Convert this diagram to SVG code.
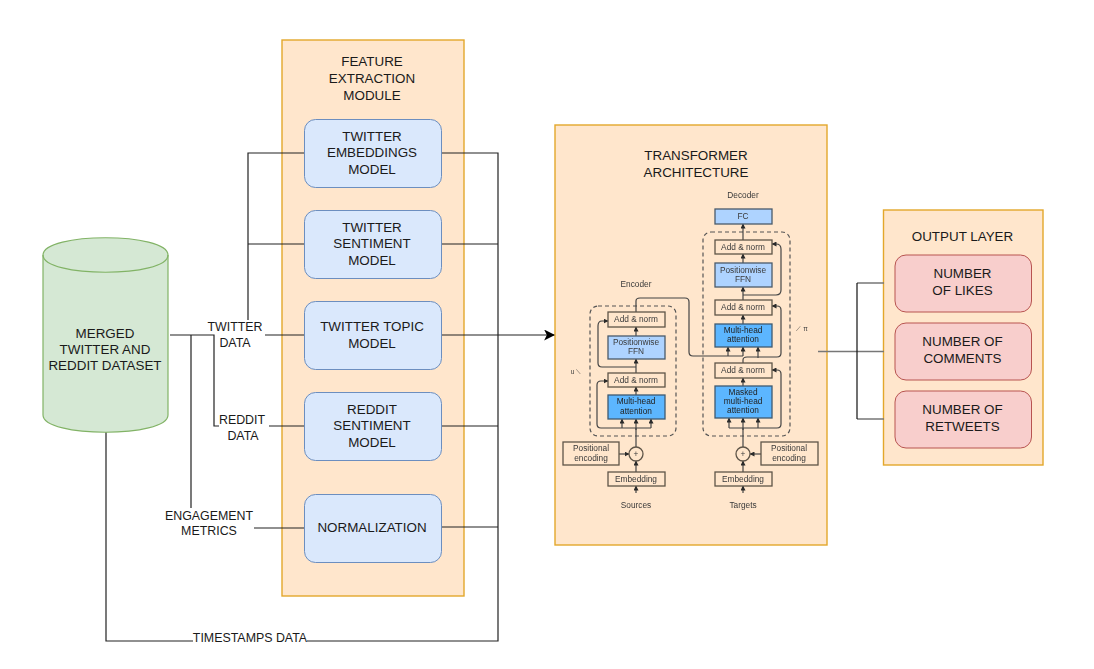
<svg xmlns="http://www.w3.org/2000/svg" width="1094" height="669" viewBox="0 0 1094 669">
<defs>
<marker id="big" viewBox="0 0 10 10" refX="9" refY="5" markerWidth="11" markerHeight="11" markerUnits="userSpaceOnUse" orient="auto"><path d="M0 0L10 5L0 10L2.500 5Z" fill="#000"/></marker>
<marker id="a" viewBox="0 0 10 10" refX="9" refY="5" markerWidth="5" markerHeight="5" markerUnits="userSpaceOnUse" orient="auto"><path d="M0 0L10 5L0 10Z" fill="#2a2a2a"/></marker>
<filter id="soft" x="-5%" y="-5%" width="110%" height="110%"><feGaussianBlur stdDeviation="0.4"/></filter>
</defs>
<style>
text{font-family:"Liberation Sans",Arial,sans-serif;fill:#1a1a1a;text-anchor:middle}
.t{font-size:13.4px}
.e{font-size:12.4px}
.s{font-size:8.300px;fill:#3a3a3a}
.panel{fill:#ffe6cc;stroke:#e3a72b;stroke-width:1.4}
.blue{fill:#dae8fc;stroke:#6c8ebf;stroke-width:1}
.red{fill:#f8cecc;stroke:#b85450;stroke-width:1}
.c{fill:none;stroke:#222;stroke-width:1.200}
.g{fill:none;stroke:#777;stroke-width:1.500}
.tf{fill:none;stroke:#444;stroke-width:1.200}
.d{fill:none;stroke:#555;stroke-width:1.200;stroke-dasharray:4 3}
.box{fill:#ffe6cc;stroke:#5f5548;stroke-width:1.300}
.lb{fill:#aed3ff;stroke:#4a5a6a;stroke-width:1.300}
.db{fill:#5cb6ff;stroke:#3f5a70;stroke-width:1.300}
</style>
<g id="panels">
<rect class="panel" x="282" y="40" width="182" height="556"/>
<rect class="panel" x="555" y="125" width="272" height="420"/>
<rect class="panel" x="883.500" y="210" width="159.500" height="255"/>
</g>
<g id="connectors">
<path class="c" d="M170 335H214V426H219M248 320V153H304M248 244H304M265 335H304M269 426H304M191 335V508M254 528H304"/>
<path class="c" d="M106 432V641H193M307 641H498V153H441M441 244H498M441 426H498M441 527H498"/>
<path class="c" d="M441 335H554" marker-end="url(#big)"/>
<path class="g" d="M818 351.500H884M884 283H857M857 419H884"/>
<path class="c" d="M857 283V419" style="stroke:#111"/>
</g>
<g id="edge-labels">
<text class="e" x="235" y="331">TWITTER</text>
<text class="e" x="235" y="347">DATA</text>
<text class="e" x="242" y="424">REDDIT</text>
<text class="e" x="243" y="440">DATA</text>
<text class="e" x="209" y="520">ENGAGEMENT</text>
<text class="e" x="209" y="535">METRICS</text>
<text class="e" x="250" y="642">TIMESTAMPS DATA</text>
</g>
<g id="dataset">
<path d="M43 255C43 232 168 232 168 255V415C168 438 43 438 43 415Z" fill="#d5e8d4" stroke="#82b366" stroke-width="1.200"/>
<path d="M43 255C43 278 168 278 168 255" fill="none" stroke="#82b366" stroke-width="1.200"/>
<text class="t" x="105" y="338">MERGED</text>
<text class="t" x="105" y="354">TWITTER AND</text>
<text class="t" x="105" y="370">REDDIT DATASET</text>
</g>
<g id="feature-module">
<text class="t" x="372" y="66">FEATURE</text>
<text class="t" x="372" y="83">EXTRACTION</text>
<text class="t" x="372" y="100">MODULE</text>
</g>
<g id="twitter-embeddings"><rect class="blue" x="304.500" y="119.500" width="137" height="68" rx="11"/><text class="t" x="372" y="141">TWITTER</text><text class="t" x="372" y="157">EMBEDDINGS</text><text class="t" x="372" y="174">MODEL</text></g>
<g id="twitter-sentiment"><rect class="blue" x="304.500" y="210.500" width="137" height="68" rx="11"/><text class="t" x="372" y="232">TWITTER</text><text class="t" x="372" y="248">SENTIMENT</text><text class="t" x="372" y="265">MODEL</text></g>
<g id="twitter-topic"><rect class="blue" x="304.500" y="301.500" width="137" height="68" rx="11"/><text class="t" x="372" y="331">TWITTER TOPIC</text><text class="t" x="372" y="348">MODEL</text></g>
<g id="reddit-sentiment"><rect class="blue" x="304.500" y="392.500" width="137" height="68" rx="11"/><text class="t" x="372" y="414">REDDIT</text><text class="t" x="372" y="430">SENTIMENT</text><text class="t" x="372" y="447">MODEL</text></g>
<g id="normalization"><rect class="blue" x="304.500" y="494.500" width="137" height="68" rx="11"/><text class="t" x="372" y="532">NORMALIZATION</text></g>
<g id="transformer">
<text class="t" x="696" y="160">TRANSFORMER</text>
<text class="t" x="696" y="177">ARCHITECTURE</text>
<g id="transformer-figure" filter="url(#soft)">
<text class="s" x="743" y="198">Decoder</text>
<text class="s" x="636" y="287">Encoder</text>
<text class="s" x="576" y="374" style="font-size:6.500px">u ⟍</text>
<text class="s" x="802" y="331" style="font-size:6.500px">⟋ π</text>
<rect class="d" x="590" y="306" width="86" height="130" rx="8"/>
<rect class="d" x="703" y="232" width="87" height="204" rx="8"/>
<path class="tf" d="M636 447V428"/>
<path class="tf" d="M636 493V486" marker-end="url(#a)"/><path class="tf" d="M636 472V461" marker-end="url(#a)"/><path class="tf" d="M636 430V419" marker-end="url(#a)"/><path class="tf" d="M636 395V387" marker-end="url(#a)"/><path class="tf" d="M636 373V359" marker-end="url(#a)"/><path class="tf" d="M636 336V327" marker-end="url(#a)"/>
<path class="tf" d="M743 447V428"/>
<path class="tf" d="M743 493V486" marker-end="url(#a)"/><path class="tf" d="M743 472V461" marker-end="url(#a)"/><path class="tf" d="M743 430V418" marker-end="url(#a)"/><path class="tf" d="M743 386V378" marker-end="url(#a)"/><path class="tf" d="M743 324V315" marker-end="url(#a)"/><path class="tf" d="M743 300V287" marker-end="url(#a)"/><path class="tf" d="M743 263V254" marker-end="url(#a)"/><path class="tf" d="M743 240V224" marker-end="url(#a)"/>
<path class="tf" d="M619 454H629" marker-end="url(#a)"/><path class="tf" d="M761 454H750" marker-end="url(#a)"/>
<path class="tf" d="M622 428Q622 424 622 419" marker-end="url(#a)"/><path class="tf" d="M651 428V419" marker-end="url(#a)"/>
<path class="tf" d="M651 428H601Q597 428 597 424V385Q597 381 601 381H608" marker-end="url(#a)"/>
<path class="tf" d="M636 367H602Q598 367 598 363V326Q598 321 602 321H608" marker-end="url(#a)"/>
<path class="tf" d="M729 428V418" marker-end="url(#a)"/><path class="tf" d="M758 428V418" marker-end="url(#a)"/>
<path class="tf" d="M729 428H777Q781 428 781 424V374Q781 370 777 370H772" marker-end="url(#a)"/>
<path class="tf" d="M636 312V301Q636 298 640 298H685Q689 298 689 302V352Q689 356 693 356H743"/>
<path class="tf" d="M728 356V347" marker-end="url(#a)"/><path class="tf" d="M743 356V347" marker-end="url(#a)"/><path class="tf" d="M758 358V347" marker-end="url(#a)"/>
<path class="tf" d="M743 363V360Q743 357 747 357H777Q781 357 781 353V310Q781 306 777 306H772" marker-end="url(#a)"/>
<path class="tf" d="M743 295H776Q781 295 781 290V249Q781 244 776 244H772" marker-end="url(#a)"/>
<g id="enc-add-top"><rect class="box" x="608" y="312" width="57" height="15"/><text class="s" x="636" y="322">Add &amp; norm</text></g>
<g id="enc-ffn"><rect class="lb" x="608" y="336" width="57" height="23"/><text class="s" x="636" y="345">Positionwise</text><text class="s" x="636" y="354">FFN</text></g>
<g id="enc-add"><rect class="box" x="608" y="373" width="57" height="14"/><text class="s" x="636" y="383">Add &amp; norm</text></g>
<g id="enc-attn"><rect class="db" x="608" y="395" width="57" height="24"/><text class="s" x="636" y="404" style="fill:#222">Multi-head</text><text class="s" x="636" y="414" style="fill:#222">attention</text></g>
<g id="enc-pos"><rect class="box" x="563" y="442" width="56" height="23"/><text class="s" x="591" y="451">Positional</text><text class="s" x="591" y="461">encoding</text></g>
<g id="enc-plus"><circle class="box" cx="636" cy="454" r="7"/><text class="s" x="636" y="457">+</text></g>
<g id="enc-embed"><rect class="box" x="608" y="472" width="57" height="14"/><text class="s" x="636" y="482">Embedding</text></g>
<text class="s" x="636" y="508">Sources</text>
<g id="dec-fc"><rect class="lb" x="715" y="209" width="57" height="15"/><text class="s" x="743" y="219">FC</text></g>
<g id="dec-add-top"><rect class="box" x="715" y="240" width="57" height="14"/><text class="s" x="743" y="250">Add &amp; norm</text></g>
<g id="dec-ffn"><rect class="lb" x="715" y="263" width="57" height="24"/><text class="s" x="743" y="273">Positionwise</text><text class="s" x="743" y="282">FFN</text></g>
<g id="dec-add-mid"><rect class="box" x="715" y="300" width="57" height="15"/><text class="s" x="743" y="310">Add &amp; norm</text></g>
<g id="dec-attn"><rect class="db" x="715" y="324" width="57" height="23"/><text class="s" x="743" y="333" style="fill:#222">Multi-head</text><text class="s" x="743" y="342" style="fill:#222">attention</text></g>
<g id="dec-add"><rect class="box" x="715" y="363" width="57" height="15"/><text class="s" x="743" y="373">Add &amp; norm</text></g>
<g id="dec-masked"><rect class="db" x="715" y="386" width="57" height="32"/><text class="s" x="743" y="395" style="fill:#222">Masked</text><text class="s" x="743" y="404" style="fill:#222">multi-head</text><text class="s" x="743" y="413" style="fill:#222">attention</text></g>
<g id="dec-pos"><rect class="box" x="761" y="442" width="57" height="23"/><text class="s" x="789" y="451">Positional</text><text class="s" x="789" y="461">encoding</text></g>
<g id="dec-plus"><circle class="box" cx="743" cy="454" r="7"/><text class="s" x="743" y="457">+</text></g>
<g id="dec-embed"><rect class="box" x="715" y="472" width="57" height="14"/><text class="s" x="743" y="482">Embedding</text></g>
<text class="s" x="743" y="508">Targets</text>
</g>
</g>
<g id="output-layer">
<text class="t" x="962.500" y="241">OUTPUT LAYER</text>
</g>
<g id="likes"><rect class="red" x="895" y="255" width="136.500" height="57" rx="11"/><text class="t" x="962.500" y="278">NUMBER</text><text class="t" x="962.500" y="295">OF LIKES</text></g>
<g id="comments"><rect class="red" x="895" y="323" width="136.500" height="57" rx="11"/><text class="t" x="962.500" y="346">NUMBER OF</text><text class="t" x="962.500" y="363">COMMENTS</text></g>
<g id="retweets"><rect class="red" x="895" y="391" width="136.500" height="57" rx="11"/><text class="t" x="962.500" y="414">NUMBER OF</text><text class="t" x="962.500" y="431">RETWEETS</text></g>
</svg>
